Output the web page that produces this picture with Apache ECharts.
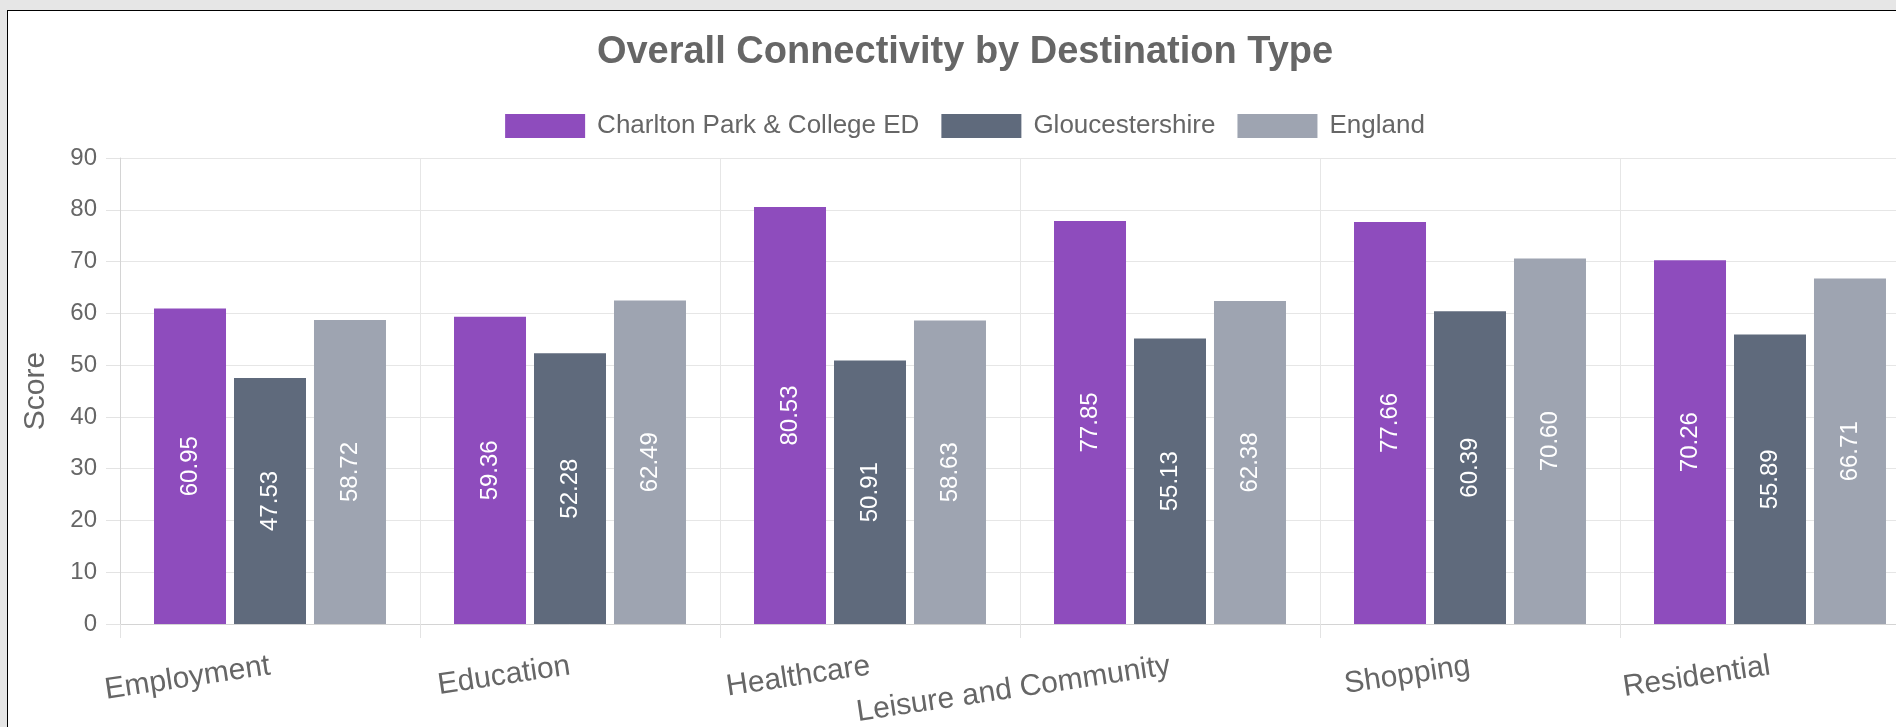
<!DOCTYPE html>
<html>
<head>
<meta charset="utf-8">
<script src="https://cdn.jsdelivr.net/npm/echarts@6/dist/echarts.min.js"></script>
<style>
html, body {
    margin: 0;
    padding: 0;
    background: #e6e6e6;
    overflow: hidden;
}
#box {
    position: absolute;
    left: 7px;
    top: 10px;
    border-left: 1px solid #000;
    border-top: 1px solid #000;
    background: #fff;
}
#bar {
    width: 1914px;
    height: 716px;
}
</style>
</head>
<body>
<div id="box"><div id="bar"></div></div>
<script>
// 类别
var categories = ['Employment', 'Education', 'Healthcare', 'Leisure and Community', 'Shopping', 'Residential'];
// 系列名
var seriesNames = ['Charlton Park & College ED', 'Gloucestershire', 'England'];
// 数据
var charltonValues = [60.95, 59.36, 80.53, 77.85, 77.66, 70.26];
var gloucesterValues = [47.53, 52.28, 50.91, 55.13, 60.39, 55.89];
var englandValues = [58.72, 62.49, 58.63, 62.38, 70.60, 66.71];
// y轴刻度
var yTicks = [0, 10, 20, 30, 40, 50, 60, 70, 80, 90];

var colors = ['#8e4cbd', '#5f6a7c', '#9ea4b1'];
var font = 'Arial, "Liberation Sans", sans-serif';

function makeSeries(name, data) {
    return {
        name: name,
        type: 'bar',
        data: data,
        barWidth: 72,
        barGap: '11.1%',
        label: {
            show: true,
            position: 'inside',
            rotate: 90,
            color: '#fff',
            fontFamily: font,
            fontSize: 24,
            formatter: function (p) { return p.value.toFixed(2); }
        }
    };
}

var barChart = echarts.init(document.getElementById('bar'));
var option = {
    backgroundColor: '#fff',
    animation: false,
    color: colors,
    textStyle: { fontFamily: font },
    title: {
        text: 'Overall Connectivity by Destination Type',
        left: 'center',
        top: 18,
        textStyle: {
            fontFamily: font,
            fontSize: 38,
            fontWeight: 'bold',
            color: '#666'
        }
    },
    legend: {
        top: 97,
        left: 'center',
        itemWidth: 80,
        itemHeight: 24,
        itemGap: 22,
        icon: 'rect',
        data: seriesNames,
        textStyle: {
            fontFamily: font,
            fontSize: 26,
            color: '#666',
            padding: [0, 0, 0, 7]
        }
    },
    grid: {
        left: 112,
        top: 147,
        width: 1800,
        height: 466,
        outerBoundsMode: 'none'
    },
    xAxis: {
        type: 'category',
        data: categories,
        axisLine: { lineStyle: { color: '#d4d4d4' } },
        axisTick: { show: true, length: 14, lineStyle: { color: '#e3e3e3' } },
        splitLine: { show: true, lineStyle: { color: '#e6e6e6' } },
        axisLabel: {
            rotate: 8.5,
            margin: 42,
            interval: 0,
            color: '#666',
            fontFamily: font,
            fontSize: 30
        }
    },
    yAxis: {
        type: 'value',
        min: yTicks[0],
        max: yTicks[yTicks.length - 1],
        interval: 10,
        name: 'Score',
        nameLocation: 'middle',
        nameGap: 69,
        nameTextStyle: { fontFamily: font, fontSize: 30, color: '#666' },
        axisLine: { show: true, lineStyle: { color: '#d4d4d4' } },
        axisTick: { show: true, length: 14, lineStyle: { color: '#e3e3e3' } },
        splitLine: { show: true, lineStyle: { color: '#e6e6e6' } },
        axisLabel: {
            margin: 23,
            color: '#666',
            fontFamily: font,
            fontSize: 24
        }
    },
    series: [
        makeSeries(seriesNames[0], charltonValues),
        makeSeries(seriesNames[1], gloucesterValues),
        makeSeries(seriesNames[2], englandValues)
    ]
};
barChart.setOption(option);
</script>
</body>
</html>
